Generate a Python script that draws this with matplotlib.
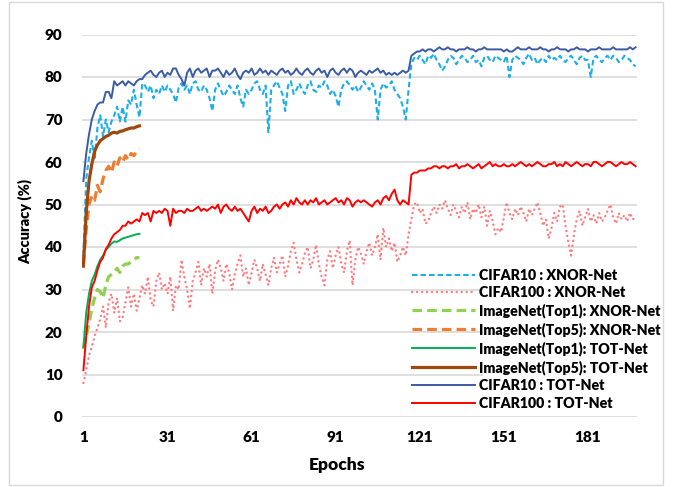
import matplotlib
matplotlib.use("Agg")
import matplotlib.pyplot as plt
from matplotlib.patches import Rectangle
import numpy as np

plt.rcParams['font.family'] = ['Lato', 'DejaVu Sans']
plt.rcParams['font.weight'] = 'bold'

# CIFAR10 : TOT-Net
c10_tot = [55.5, 62, 66.5, 70, 72, 73.5, 74, 74, 76.5, 76.5,
           75, 79, 78, 78.5, 79, 78, 79, 78.5, 78, 79,
           79.5, 79.5, 80.5, 81, 81.5, 80.5, 80, 81, 81.5, 80,
           81, 80.5, 82, 82, 80.5, 79.5, 78, 81, 82, 80,
           81.5, 82, 81, 81.5, 82, 80, 81.5, 81.5, 82, 81,
           80, 81.5, 80.5, 81, 82, 80.5, 79.5, 81, 81.5, 81,
           82, 80.5, 81, 82, 81, 81.5, 80.5, 81.5, 81, 80.5,
           81.5, 82, 81, 81.5, 80.5, 81, 82, 81, 80.5, 81.5,
           82, 81, 80.5, 81.5, 82, 81, 81.5, 80, 81.5, 82,
           81, 80.5, 81.5, 82, 81, 82, 81.5, 80, 81, 81.5,
           81, 80.5, 81.5, 81, 81.5, 82, 81, 81.5, 80.5, 81,
           80.5, 81, 80.5, 81, 81.5, 81, 81.5,
           85, 85.5, 86, 86, 86.5, 86, 86.5, 86.5, 86, 86.5, 87, 86.5, 86.5,
           87, 86.5, 86.5, 86, 86.5, 86.5, 86.5, 87, 86.5, 86.5,
           86, 86.5, 86.5, 87, 86.5, 86.5, 86.5, 86.5, 86.5, 86.5,
           86, 86.5, 86, 86, 86.5, 87, 86.5, 86.5, 86.5, 87,
           86.5, 86.5, 86.5, 87, 86.5, 86.5, 86, 86.5, 86.5, 87,
           86.5, 86.5, 86.5, 86, 86.5, 86.5, 87, 86.5, 86.5, 86.5,
           86, 86.5, 86.5, 86.5, 87, 86.5, 86.5, 86.5, 86.5, 87,
           86.5, 86.5, 86.5, 86.5, 86.5, 87, 86.5, 87]

# CIFAR10 : XNOR-Net
c10_xnor = [38, 56, 61, 65, 60.5, 68, 71, 66, 70, 67,
            69.5, 71, 73, 69.5, 73, 69.5, 74.5, 73.5, 77, 73.5,
            70.5, 78.5, 78, 76.5, 78, 75, 77, 76, 78, 76.5,
            78, 77, 76, 74, 77.5, 78.5, 77, 78, 76, 78.5,
            79, 77, 76.5, 78, 77, 75, 72, 77, 78.5, 77,
            75.5, 76.5, 78, 77, 76, 78, 75, 73, 77, 76,
            77, 78.5, 79, 77, 76, 78, 67, 77, 78, 79,
            77.5, 76, 72, 78, 79, 76, 77, 78.5, 77, 76,
            78, 79, 77, 76.5, 78, 77.5, 79, 78, 76, 77,
            75.5, 73, 77, 78.5, 79, 78, 77, 78, 76.5, 77.5,
            79, 78, 77, 78.5, 77, 70, 77, 78.5, 77.5, 78,
            79, 77, 76, 75, 73, 70, 77,
            83, 84.5, 84, 85, 84, 83, 85, 84.5, 85.5, 84, 83, 81.5, 82.5,
            84, 85, 84.5, 83, 84, 85, 84.5, 83.5, 84, 85,
            83.5, 84, 82.5, 84.5, 85, 84, 83.5, 85, 84.5, 84,
            83.5, 85, 80, 84, 85, 84.5, 84, 83, 84.5, 85.5,
            84, 84.5, 83, 84, 84.5, 83.5, 85, 84, 84.5, 84,
            85, 84, 83.5, 84.5, 85, 84, 83, 84.5, 85, 84,
            84, 80, 84.5, 85, 84, 83.5, 84.5, 85, 84, 85,
            84.5, 83.5, 84, 85, 84.5, 84, 83, 82.5]

# CIFAR100 : TOT-Net
c100_tot = [11, 19, 26, 30.5, 32, 34.5, 36.5, 37.5, 39.5, 40.5,
            42, 43, 43.5, 44, 45, 45, 46, 45.5, 46, 46.5,
            46, 48, 47.5, 48, 46, 48.5, 48, 48.5, 48, 49,
            48.5, 45, 49, 48, 48.5, 48.5, 48, 49, 48.5, 48.5,
            49, 49.5, 48.5, 49, 48.5, 49, 49.5, 49, 50, 48,
            49.5, 50, 49, 48.5, 49.5, 48.5, 49, 48, 47, 46,
            48.5, 49.5, 48, 49, 48.5, 49.5, 48, 48.5, 49.5, 50,
            49, 50, 50.5, 49.5, 51, 50, 51.5, 50.5, 50, 51,
            50, 51, 50.5, 51.5, 50, 50.5, 51, 50, 50.5, 51,
            51.5, 50.5, 51, 50, 51.5, 51, 49.5, 50.5, 51, 50.5,
            51, 50.5, 50, 49.5, 50.5, 51, 50, 51.5, 52, 51,
            52.5, 53.5, 51, 50, 51, 50.5, 50,
            57, 57.5, 57.5, 58, 58, 58, 58.5, 58.5, 59, 59, 58.5, 59, 59,
            58.5, 59, 59, 59.5, 58.5, 59, 59, 59.5, 59, 58.5,
            59, 59.5, 58.5, 59, 59.5, 60, 59, 59.5, 59, 59,
            59.5, 59, 59, 59.5, 59, 59.5, 60, 59.5, 59, 59.5,
            59, 59.5, 60, 59.5, 59, 59, 59.5, 59.5, 60, 59,
            59.5, 59, 60, 59.5, 59, 59.5, 60, 59.5, 59, 59.5,
            59.5, 59, 60, 60, 59.5, 59, 59.5, 60, 60, 59.5,
            59, 59.5, 60, 59.5, 59.5, 60, 59.5, 59]

# CIFAR100 : XNOR-Net
c100_xnor = [8, 11, 14.5, 16.5, 19, 21, 23, 26, 21, 27,
             29, 24.5, 28, 22.5, 23.5, 27, 30.5, 26, 29, 25,
             28, 31, 29, 33, 27.5, 26, 32, 34, 30, 31.5,
             29, 33, 25, 31, 30, 37, 33, 30, 25.5, 32,
             34, 36.5, 31, 35, 33, 36, 29, 34.5, 37, 35,
             32, 36, 34, 30, 33.5, 36, 38, 33, 35, 31,
             34, 37, 35, 32, 36, 33.5, 31, 35, 37.5, 34,
             36, 38, 33, 35.5, 39, 41, 37, 34, 36, 38.5,
             40, 35, 37, 40.5, 36, 33, 31, 37, 39, 35,
             38, 40, 36, 34, 39, 41.5, 31, 37, 40, 38.5,
             36, 39, 41, 38, 40, 43, 37, 44.5, 40, 42,
             39, 41, 36.5, 38, 40, 38, 43,
             46.5, 50, 50.5, 48, 49, 45.5, 46, 48, 49.5, 48, 50, 49, 51,
             49, 47.5, 50, 48.5, 47, 49.5, 48, 50.5, 46.5, 49,
             48, 50, 47, 49.5, 45, 48.5, 46, 43, 44.5, 43.5,
             47, 50.5, 48, 46.5, 49, 47.5, 49.5, 48, 46, 49,
             47.5, 49, 50.5, 48, 45, 46.5, 42, 44.5, 48, 46,
             49.5, 50, 45, 41, 38, 43, 46.5, 48.5, 45, 47,
             49, 46, 47.5, 45.5, 48, 46, 47, 48.5, 50, 47,
             45.5, 48, 46.5, 47.5, 46, 48, 46.5, 47]

# ImageNet series (21 epochs)
in_top1_xnor = [16, 19, 22, 25.5, 28, 30, 29.5, 28, 31, 33,
                33.5, 34, 35, 34, 35.5, 36, 36, 36.5, 37, 37.5, 37.5]
in_top5_xnor = [36, 44, 50, 52, 51, 54.5, 53, 56, 58, 59,
                57.5, 60, 59, 61, 60, 61.5, 60.5, 62, 61.5, 62.5, 63]
in_top1_tot = [16.5, 24.5, 29, 32, 33.5, 35.5, 37, 38, 39.3, 40,
               40.8, 41.3, 41.2, 41.6, 42, 42.2, 42.4, 42.6, 42.8, 43, 43.1]
in_top5_tot = [35.5, 48, 55.5, 59.5, 62.5, 64, 65, 65.5, 66, 66.3,
               66.8, 67, 66.8, 67.2, 67.3, 67.6, 67.8, 68, 68, 68.3, 68.5]

labels = ["CIFAR10 : XNOR-Net", "CIFAR100 : XNOR-Net",
          "ImageNet(Top1): XNOR-Net", "ImageNet(Top5): XNOR-Net",
          "ImageNet(Top1): TOT-Net", "ImageNet(Top5): TOT-Net",
          "CIFAR10 : TOT-Net", "CIFAR100 : TOT-Net"]
xticks = [1, 31, 61, 91, 121, 151, 181]
n_epochs = 198


def ep(y):
    return np.arange(1, len(y) + 1)


fig = plt.figure(figsize=(6.76, 4.87), dpi=100)
ax = fig.add_axes([82 / 676, 1 - 417 / 487, 555 / 676, 382.5 / 487])

h = []
h += ax.plot(ep(c10_xnor), c10_xnor, color='#1DAEEA', lw=1.5, ls=(0, (2.6, 1.5)), label=labels[0])
h += ax.plot(ep(c100_xnor), c100_xnor, color='#FF7C80', lw=1.7, ls=(0, (0.1, 2.0)),
             dash_capstyle='round', label=labels[1])
h += ax.plot(ep(in_top1_xnor), in_top1_xnor, color='#92D050', lw=2.3, ls=(0, (3, 1.6)), label=labels[2])
h += ax.plot(ep(in_top5_xnor), in_top5_xnor, color='#ED7D31', lw=2.3, ls=(0, (3, 1.6)), label=labels[3])
h += ax.plot(ep(in_top1_tot), in_top1_tot, color='#00B050', lw=1.4, label=labels[4])
h += ax.plot(ep(in_top5_tot), in_top5_tot, color='#9E480E', lw=2.3, label=labels[5])
h += ax.plot(ep(c10_tot), c10_tot, color='#3B5BA5', lw=1.4, label=labels[6])
h += ax.plot(ep(c100_tot), c100_tot, color='#FF0000', lw=1.4, label=labels[7])

ax.set_xlim(0.5, n_epochs + 0.5)
ax.set_ylim(0, 90)
ax.set_yticks(np.arange(0, 91, 10))
ax.set_xticks(xticks)
ax.grid(axis='y', color='#D9D9D9', lw=1.2)
ax.set_axisbelow(True)
for s in ax.spines.values():
    s.set_visible(False)
ax.tick_params(length=0, labelsize=11, pad=10)
ax.tick_params(axis='y', pad=14)
for t in ax.get_xticklabels() + ax.get_yticklabels():
    t.set_fontweight('heavy')

# white area behind legend text
ax.add_patch(Rectangle((0.7225, 0.013), 0.2775, 0.392, transform=ax.transAxes,
                       facecolor='white', edgecolor='none', zorder=1))

ax.legend(handles=h, loc='upper left', bbox_to_anchor=(0.595, 0.388), frameon=False,
          handlelength=4.4, handletextpad=0.3, labelspacing=0.31,
          borderpad=0, borderaxespad=0, prop={'weight': 'heavy', 'size': 10.2})

fig.text(25 / 676, 1 - 222 / 487, "Accuracy (%)", rotation=90, ha='center', va='center',
         fontsize=10.5, fontweight='heavy')
fig.text(337 / 676, 1 - 465 / 487, "Epochs", ha='center', va='center',
         fontsize=12.5, fontweight='heavy')

fig.patches.append(Rectangle((9 / 676, 2 / 487), 654 / 676, 483 / 487, transform=fig.transFigure,
                             facecolor='none', edgecolor='#D9D9D9', lw=1))

fig.savefig("out.png", dpi=100)
